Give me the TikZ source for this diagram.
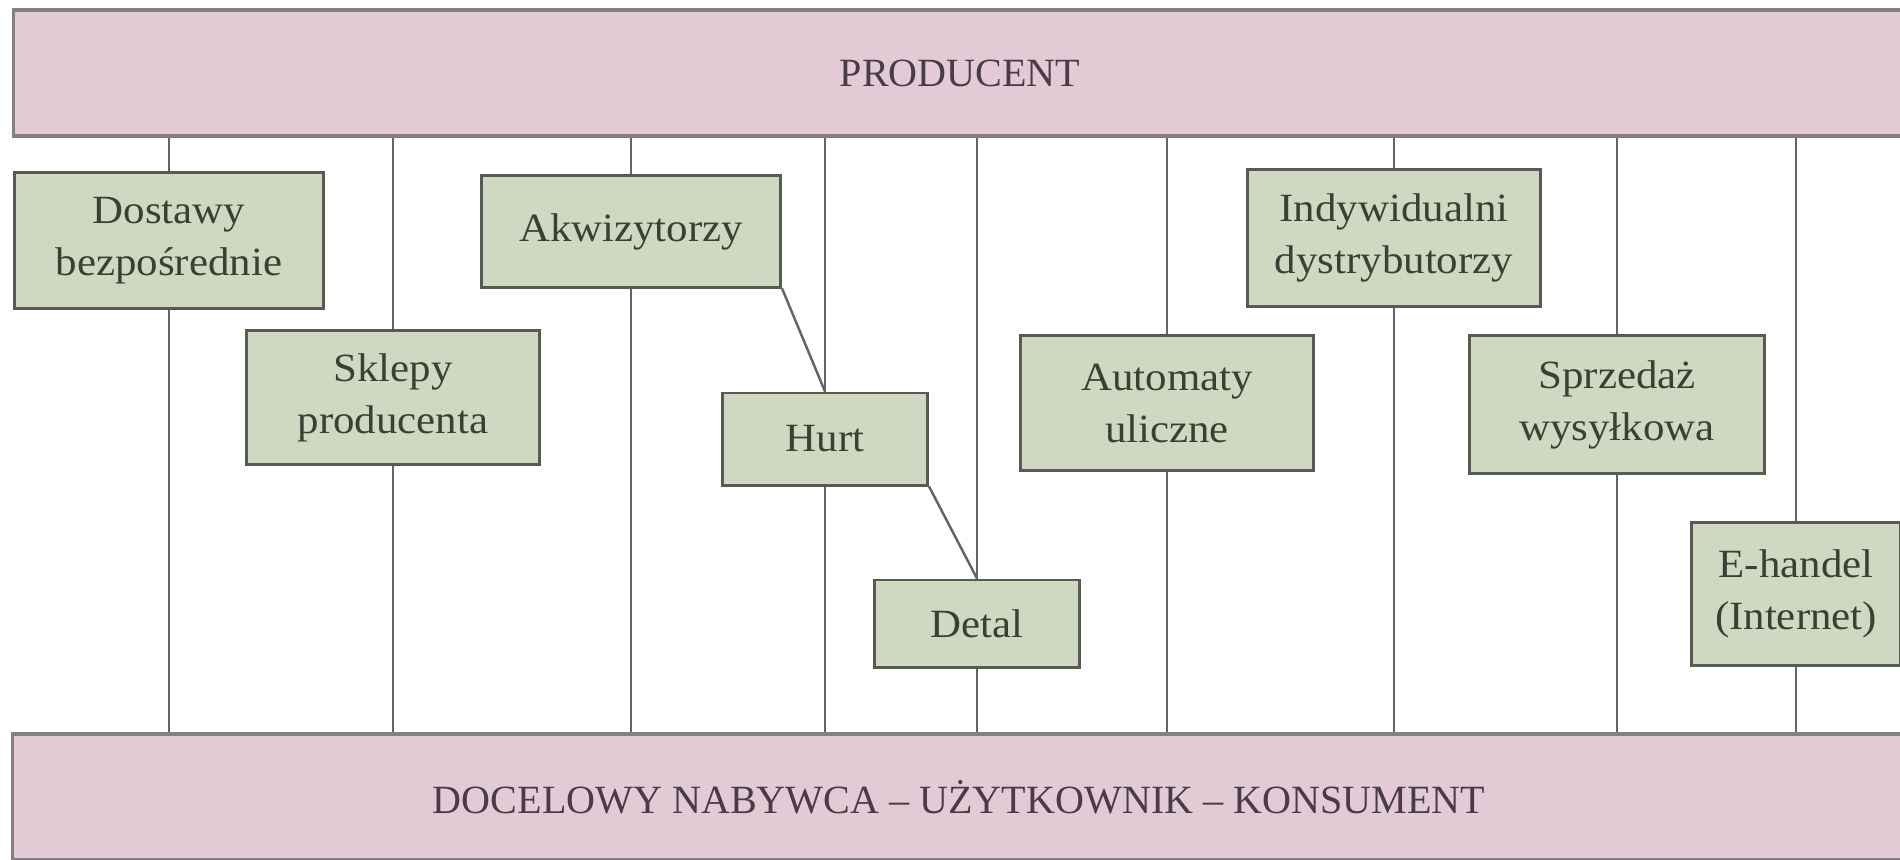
\documentclass[tikz,border=0pt]{standalone}
\usepackage{fontspec}
\setmainfont{Liberation Serif}[FakeStretch=1.07]
\newfontfamily\barfont{Liberation Serif}
\definecolor{barfill}{RGB}{226,203,213}
\definecolor{barline}{RGB}{135,125,133}
\definecolor{boxfill}{RGB}{207,217,193}
\definecolor{boxline}{RGB}{88,90,84}
\definecolor{boxtext}{RGB}{58,64,52}
\definecolor{bartext}{RGB}{72,60,72}
\definecolor{linkcol}{RGB}{100,100,100}
\tikzset{
  channel/.style={draw=boxline, line width=0.85pt, fill=boxfill, rectangle,
    inner sep=0pt, align=center, text=boxtext,
    font={\fontsize{11.4}{14.8}\selectfont}},
  band/.style={draw=barline, line width=0.9pt, fill=barfill, rectangle,
    inner sep=0pt, minimum width=18.92cm, minimum height=1.26cm, text=bartext,
    font={\barfont\fontsize{11.4}{14.8}\selectfont}},
  link/.style={draw=linkcol, line width=0.7pt}
}
\begin{document}
\begin{tikzpicture}[x=0.01cm, y=-0.01cm]
  \useasboundingbox (0,0) rectangle (1900,859);
  \clip (0,0) rectangle (1900,859);
  \fill[white] (0,0) rectangle (1900,859);

  % top and bottom bands
  \node[band] (prod) at (960,73) {PRODUCENT};
  \node[band] (kons) at (959,797) {DOCELOWY NABYWCA – UŻYTKOWNIK – KONSUMENT};

  % distribution channels
  \node[channel, minimum width=3.08cm, minimum height=1.35cm] (dost) at (169,240.5) {Dostawy\\bezpośrednie};
  \node[channel, minimum width=2.92cm, minimum height=1.33cm] (skl) at (393,397.5) {Sklepy\\producenta};
  \node[channel, minimum width=2.99cm, minimum height=1.11cm] (akw) at (631,231.5) {Akwizytorzy};
  \node[channel, minimum width=2.05cm, minimum height=0.92cm] (hurt) at (825,439) {Hurt};
  \node[channel, minimum width=2.04cm, minimum height=0.87cm] (detal) at (977,623.5) {Detal};
  \node[channel, minimum width=2.93cm, minimum height=1.34cm] (auto) at (1167,403) {Automaty\\uliczne};
  \node[channel, minimum width=2.92cm, minimum height=1.36cm] (indy) at (1394,238) {Indywidualni\\dystrybutorzy};
  \node[channel, minimum width=2.95cm, minimum height=1.37cm] (sprz) at (1617,404.5) {Sprzedaż\\wysyłkowa};
  \node[channel, minimum width=2.08cm, minimum height=1.42cm] (eh) at (1796,594) {E-handel\\(Internet)};

  % vertical links producer -> channel -> consumer
  \foreach \n in {dost,skl,akw,hurt,detal,auto,indy,sprz,eh}{
    \draw[link] (prod.south -| \n.north) -- (\n.north);
    \draw[link] (\n.south) -- (\n.south |- kons.north);
  }

  % chained links
  \draw[link] (akw.south east) -- (hurt.north);
  \draw[link] (hurt.south east) -- (detal.north);

  % redraw bands on top of link ends
  \node[band] at (960,73) {PRODUCENT};
  \node[band] at (959,797) {DOCELOWY NABYWCA – UŻYTKOWNIK – KONSUMENT};
\end{tikzpicture}
\end{document}
